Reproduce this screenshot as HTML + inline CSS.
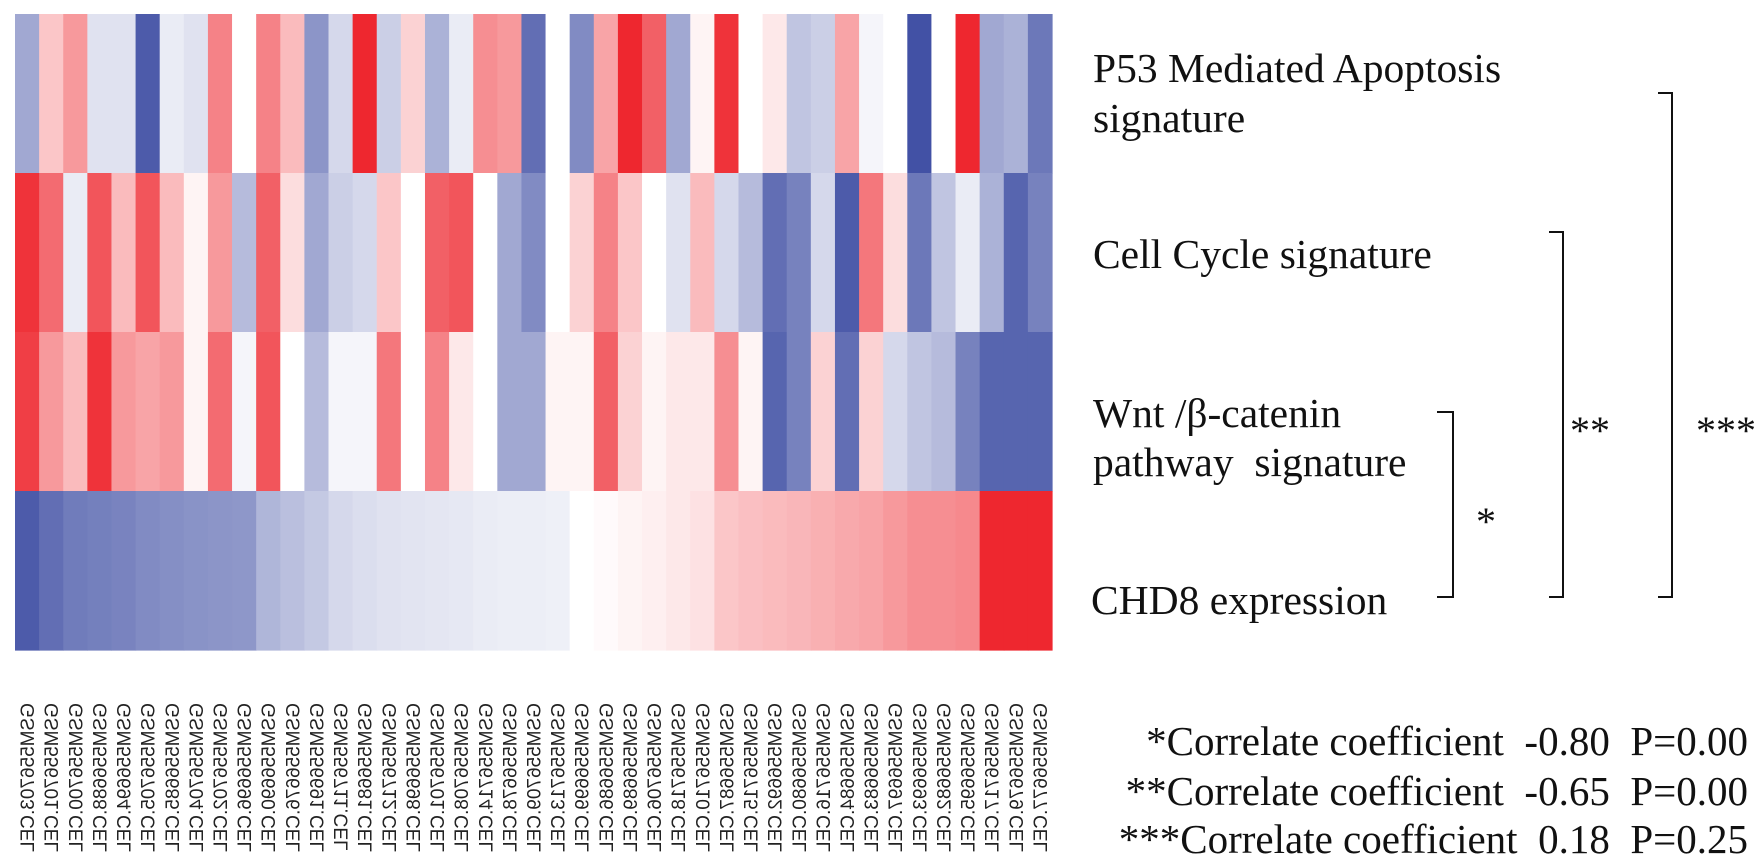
<!DOCTYPE html>
<html><head><meta charset="utf-8">
<style>
html,body{margin:0;padding:0;background:#fff;}
#root{position:relative;width:1758px;height:865px;overflow:hidden;background:#fff;}
svg text{font-family:"Liberation Serif",serif;fill:#111;}
.lab{font-family:"Liberation Sans",sans-serif;font-size:19px;fill:#222;}
</style></head>
<body>
<div id="root">
<svg id="chart" width="1758" height="865">
  <g id="cells"></g>
  <g id="xlabels"></g>
  <g font-size="41.5">
    <text x="1093" y="82">P53 Mediated Apoptosis</text>
    <text x="1093" y="132">signature</text>
    <text x="1093" y="268">Cell Cycle signature</text>
    <text x="1093" y="427">Wnt /β-catenin</text>
    <text x="1093" y="476" xml:space="preserve">pathway  signature</text>
    <text x="1091" y="614">CHD8 expression</text>
  </g>
  <g fill="none" stroke="#111" stroke-width="2">
    <polyline points="1437,412 1453,412 1453,597 1437,597"/>
    <polyline points="1549,232 1563,232 1563,597 1549,597"/>
    <polyline points="1658,93 1672,93 1672,597 1658,597"/>
  </g>
  <g font-size="40">
    <text x="1476" y="535">*</text>
    <text x="1570" y="444">**</text>
    <text x="1696" y="444">***</text>
  </g>
  <g font-size="41" text-anchor="end">
    <text x="1748" y="755" xml:space="preserve">*Correlate coefficient  -0.80  P=0.00</text>
    <text x="1748" y="805" xml:space="preserve">**Correlate coefficient  -0.65  P=0.00</text>
    <text x="1748" y="853" xml:space="preserve">***Correlate coefficient  0.18  P=0.25</text>
  </g>
</svg>
</div>
<script>
const rowNames = ["p53","cell-cycle","wnt","chd8"];
const p53Vals = [-0.45,0.25,0.45,-0.15,-0.15,-0.85,-0.1,-0.15,0.55,0,0.55,0.3,-0.55,-0.2,0.95,-0.25,0.2,-0.4,-0.1,0.5,0.45,-0.75,0,-0.6,0.4,0.95,0.7,-0.45,0.05,0.9,0,0.1,-0.3,-0.25,0.4,-0.05,0,-0.9,0,0.95,-0.45,-0.4,-0.7];
const cellCycleVals = [0.9,0.65,-0.1,0.75,0.3,0.75,0.3,0.05,0.45,-0.35,0.7,0.15,-0.45,-0.25,-0.2,0.25,0,0.7,0.75,0,-0.45,-0.6,0,0.2,0.55,0.25,0,-0.15,0.3,-0.2,-0.35,-0.75,-0.65,-0.2,-0.85,0.6,0.15,-0.7,-0.3,-0.1,-0.4,-0.8,-0.65];
const wntVals = [0.85,0.45,0.3,0.9,0.45,0.4,0.45,0.05,0.65,-0.05,0.75,0,-0.35,-0.05,-0.05,0.6,0,0.55,0.1,0,-0.45,-0.45,0.05,0.05,0.7,0.2,0.05,0.1,0.1,0.5,0.05,-0.8,-0.65,0.2,-0.75,0.2,-0.2,-0.3,-0.35,-0.65,-0.8,-0.8,-0.8];
const chd8Vals = [-0.85,-0.75,-0.68,-0.66,-0.64,-0.6,-0.58,-0.56,-0.55,-0.54,-0.38,-0.33,-0.28,-0.2,-0.17,-0.15,-0.14,-0.13,-0.12,-0.1,-0.09,-0.09,-0.08,0,0.02,0.05,0.07,0.1,0.13,0.25,0.28,0.3,0.32,0.35,0.38,0.4,0.45,0.5,0.5,0.52,0.95,0.95,0.95];
const sampleLabels = ["GSM556703.CEL","GSM556701.CEL","GSM556700.CEL","GSM556688.CEL","GSM556694.CEL","GSM556705.CEL","GSM556685.CEL","GSM556704.CEL","GSM556702.CEL","GSM556696.CEL","GSM556690.CEL","GSM556676.CEL","GSM556691.CEL","GSM556711.CEL","GSM556681.CEL","GSM556712.CEL","GSM556698.CEL","GSM556701.CEL","GSM556708.CEL","GSM556714.CEL","GSM556678.CEL","GSM556709.CEL","GSM556713.CEL","GSM556699.CEL","GSM556686.CEL","GSM556689.CEL","GSM556706.CEL","GSM556718.CEL","GSM556710.CEL","GSM556687.CEL","GSM556715.CEL","GSM556692.CEL","GSM556680.CEL","GSM556716.CEL","GSM556684.CEL","GSM556683.CEL","GSM556697.CEL","GSM556693.CEL","GSM556682.CEL","GSM556695.CEL","GSM556717.CEL","GSM556679.CEL","GSM556677.CEL"];
const rows = [p53Vals, cellCycleVals, wntVals, chd8Vals];

const X0=15, X1=1052, Y0=14, Y1=650;
const nCols = sampleLabels.length;
const cw = (X1-X0)/nCols, rh = (Y1-Y0)/rows.length;
function xPos(i){return X0 + i*cw;}
function yPos(r){return Y0 + r*rh;}
function color(v){
  v=Math.max(-1,Math.min(1,v));
  let c;
  if(v>=0){c=[255+(237-255)*v,255+(28-255)*v,255+(36-255)*v];}
  else{const t=-v;c=[255+(45-255)*t,255+(62-255)*t,255+(155-255)*t];}
  return "rgb("+c.map(Math.round).join(",")+")";
}
const NS="http://www.w3.org/2000/svg";
const g=document.getElementById("cells");
rows.forEach((vals,r)=>{
  vals.forEach((v,i)=>{
    const rc=document.createElementNS(NS,"rect");
    rc.setAttribute("x",xPos(i));
    rc.setAttribute("y",yPos(r));
    rc.setAttribute("width",cw+0.6);
    rc.setAttribute("height",rh+0.6);
    rc.setAttribute("fill",color(v));
    
    
    g.appendChild(rc);
  });
});
const xl=document.getElementById("xlabels");
sampleLabels.forEach((s,i)=>{
  const t=document.createElementNS(NS,"text");
  const cx=xPos(i)+cw/2;
  t.setAttribute("class","lab");
  t.setAttribute("transform","translate("+(cx+7)+",703) rotate(90) scale(1,-1)");
  t.textContent=s;
  
  
  xl.appendChild(t);
});
</script>
</body></html>
